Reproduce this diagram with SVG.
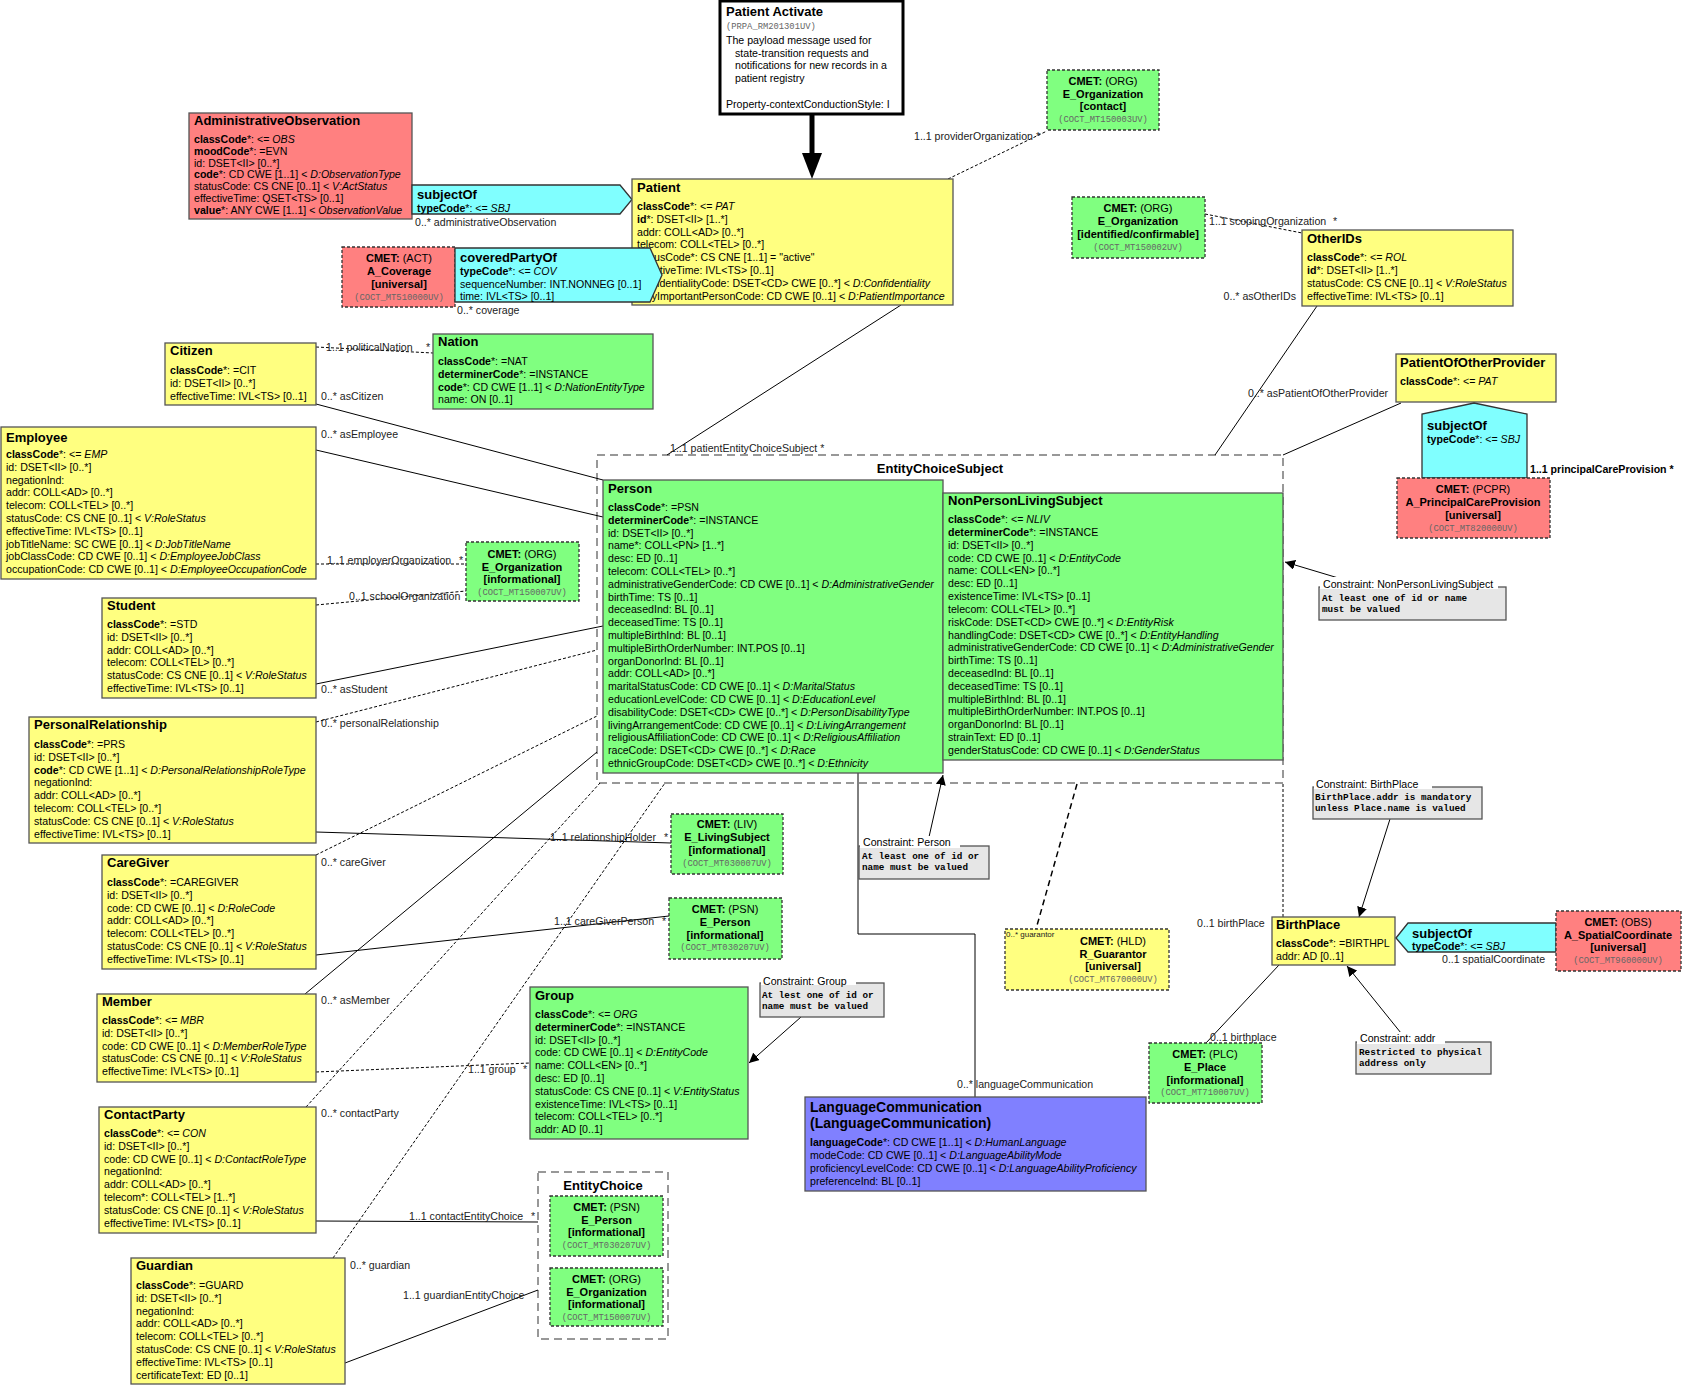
<svg xmlns="http://www.w3.org/2000/svg" width="1682" height="1385" viewBox="0 0 1682 1385">
<style>
text{font-family:"Liberation Sans",Arial,sans-serif;font-size:10.6px;fill:#000}
.t{font-weight:bold;font-size:13px}
.t2{font-weight:bold;font-size:14px}
.b{font-weight:bold}
.i{font-style:italic}
.c{text-anchor:middle}
g[id^="CMET"] .c{font-size:11px}
.e{text-anchor:end}
.m{font-family:"Liberation Mono","Courier New",monospace;font-weight:bold;font-size:9.3px}
.cd{font-family:"Liberation Mono","Courier New",monospace;font-size:8.8px;fill:#666;text-anchor:middle}
.l{fill:#222}
.sm{font-size:8px;fill:#222}
.yl{fill:#FFFF80;stroke:#555;stroke-width:1.3}
.gr{fill:#80FF80;stroke:#555;stroke-width:1.3}
.rd{fill:#FF8080;stroke:#555;stroke-width:1.3}
.cy{fill:#80FFFF;stroke:#333;stroke-width:1.3}
.bl{fill:#8080FF;stroke:#555;stroke-width:1.3}
.dsh{stroke:#333;stroke-dasharray:3,2}
.fr{fill:none;stroke:#777;stroke-width:1.5;stroke-dasharray:8,5}
.ct{fill:#E6E6E6;stroke:#555;stroke-width:1.3}
.s{stroke:#000;stroke-width:1;fill:none}
.d{stroke:#000;stroke-width:1;fill:none;stroke-dasharray:3,2}
.ar{stroke:#000;stroke-width:1;fill:none;marker-end:url(#ah)}
</style>
<defs>
<marker id="ah" viewBox="0 0 10 10" refX="10" refY="5" markerWidth="10" markerHeight="10" markerUnits="userSpaceOnUse" orient="auto">
<path d="M0,0 L10,5 L0,10 z" fill="#000"/>
</marker>
</defs>
<rect width="1682" height="1385" fill="#fff"/>

<!-- frames -->
<g id="EntityChoiceSubject">
<rect class="fr" x="597" y="455" width="686" height="328"/>
<text class="t c" x="940" y="472.5">EntityChoiceSubject</text>
</g>
<g id="EntityChoice">
<rect class="fr" x="538" y="1172" width="130" height="167"/>
<text class="t c" x="603" y="1189.5">EntityChoice</text>
</g>

<g id="connectors">
<line x1="812" y1="114" x2="812" y2="156" stroke="#000" stroke-width="5"/>
<polygon points="802,153 822,153 812,179" fill="#000"/>
<line class="d" x1="948" y1="179" x2="1047" y2="131"/>
<text class="l" x="914" y="140">1..1 providerOrganization *</text>
<line class="d" x1="1205" y1="214" x2="1302" y2="233"/>
<text class="l" x="1209" y="225">1..1 scopingOrganization</text>
<text class="l" x="1333" y="225">*</text>
<line class="s" x1="1317" y1="306" x2="1215" y2="455"/>
<text class="l e" x="1296" y="300">0..* asOtherIDs</text>
<line class="s" x1="1401" y1="403" x2="1283" y2="455"/>
<text class="l" x="1248" y="397">0..* asPatientOfOtherProvider</text>
<text class="b" x="1530" y="473">1..1 principalCareProvision *</text>
<line class="s" x1="901" y1="305" x2="667" y2="455"/>
<text class="l" x="670" y="452">1..1 patientEntityChoiceSubject *</text>
<text class="l" x="415" y="226">0..* administrativeObservation</text>
<text class="l" x="457" y="314">0..* coverage</text>
<line class="d" x1="316" y1="347" x2="433" y2="353"/>
<text class="l" x="326" y="351">1..1 politicalNation</text>
<text class="l" x="426" y="351">*</text>
<line class="s" x1="316" y1="404" x2="603" y2="480"/>
<text class="l" x="321" y="400">0..* asCitizen</text>
<line class="s" x1="316" y1="450" x2="603" y2="517"/>
<text class="l" x="321" y="438">0..* asEmployee</text>
<line class="d" x1="316" y1="564" x2="466" y2="564"/>
<text class="l" x="327" y="564">1..1 employerOrganization</text>
<text class="l" x="459" y="564">*</text>
<line class="d" x1="316" y1="605" x2="466" y2="591"/>
<text class="l" x="349" y="600">0..1 schoolOrganization</text>
<line class="s" x1="316" y1="684" x2="603" y2="626"/>
<text class="l" x="321" y="693">0..* asStudent</text>
<line class="d" x1="316" y1="722" x2="597" y2="650"/>
<text class="l" x="321" y="727">0..* personalRelationship</text>
<line class="s" x1="316" y1="832" x2="671" y2="843"/>
<text class="l" x="550" y="841">1..1 relationshipHolder</text>
<text class="l" x="664" y="841">*</text>
<line class="d" x1="316" y1="855" x2="597" y2="716"/>
<text class="l" x="321" y="866">0..* careGiver</text>
<line class="s" x1="316" y1="955" x2="669" y2="916"/>
<text class="l" x="554" y="925">1..1 careGiverPerson</text>
<text class="l" x="662" y="925">*</text>
<line class="s" x1="305" y1="994" x2="597" y2="752"/>
<text class="l" x="321" y="1004">0..* asMember</text>
<line class="d" x1="316" y1="1072" x2="530" y2="1063"/>
<text class="l" x="468" y="1073">1..1 group</text>
<text class="l" x="523" y="1073">*</text>
<line class="d" x1="306" y1="1107" x2="600" y2="783"/>
<text class="l" x="321" y="1117">0..* contactParty</text>
<line class="s" x1="316" y1="1221" x2="538" y2="1222"/>
<text class="l" x="409" y="1220">1..1 contactEntityChoice</text>
<text class="l" x="531" y="1220">*</text>
<line class="d" x1="333" y1="1258" x2="665" y2="783"/>
<text class="l" x="350" y="1269">0..* guardian</text>
<line class="s" x1="345" y1="1363" x2="538" y2="1290"/>
<text class="l" x="403" y="1299">1..1 guardianEntityChoice</text>
<polyline class="s" points="858,773 858,934 975,934 975,1097"/>
<text class="l" x="957" y="1088">0..* languageCommunication</text>
<line x1="1077" y1="784" x2="1036" y2="929" stroke="#000" stroke-width="1.5" stroke-dasharray="6,4"/>
<line class="d" x1="1283" y1="784" x2="1283" y2="917"/>
<text class="l" x="1197" y="927">0..1 birthPlace</text>
<line class="s" x1="1206" y1="1043" x2="1279" y2="965"/>
<text class="l" x="1210" y="1041">0..1 birthplace</text>
<text class="l" x="1442" y="963">0..1 spatialCoordinate</text>
<line class="ar" x1="1345" y1="580" x2="1285" y2="562"/>
<line class="ar" x1="929" y1="837" x2="943" y2="775"/>
<line class="ar" x1="801" y1="1017" x2="749" y2="1063"/>
<line class="ar" x1="1390" y1="819" x2="1359" y2="917"/>
<line class="ar" x1="1405" y1="1038" x2="1347" y2="966"/>
</g>

<g id="PatientActivate">
<rect x="720" y="1" width="183" height="113" fill="#fff" stroke="#000" stroke-width="3"/>
<text class="t" x="726" y="16">Patient Activate</text>
<text class="cd" x="726" y="29" style="text-anchor:start">(PRPA_RM201301UV)</text>
<text x="726" y="44">The payload message used for</text>
<text x="735" y="56.5">state-transition requests and</text>
<text x="735" y="69">notifications for new records in a</text>
<text x="735" y="82">patient registry</text>
<text x="726" y="108">Property-contextConductionStyle: I</text>
</g>

<g id="AdministrativeObservation">
<rect class="rd" x="189" y="113" width="223" height="106"/>
<text class="t" x="194" y="124.5">AdministrativeObservation</text>
<text x="194" y="143"><tspan class="b">classCode</tspan>*: &lt;= <tspan class="i">OBS</tspan></text>
<text x="194" y="154.8"><tspan class="b">moodCode</tspan>*: =EVN</text>
<text x="194" y="166.6">id: DSET&lt;II&gt; [0..*]</text>
<text x="194" y="178.4"><tspan class="b">code</tspan>*: CD CWE [1..1] &lt; <tspan class="i">D:ObservationType</tspan></text>
<text x="194" y="190.2">statusCode: CS CNE [0..1] &lt; <tspan class="i">V:ActStatus</tspan></text>
<text x="194" y="202">effectiveTime: QSET&lt;TS&gt; [0..1]</text>
<text x="194" y="213.8"><tspan class="b">value</tspan>*: ANY CWE [1..1] &lt; <tspan class="i">ObservationValue</tspan></text>
</g>

<g id="subjectOfAdmin">
<polygon class="cy" points="412,185 620,185 632,199.5 620,214 412,214"/>
<text class="t" x="417" y="199">subjectOf</text>
<text x="417" y="212"><tspan class="b">typeCode</tspan>*: &lt;= <tspan class="i">SBJ</tspan></text>
</g>

<g id="Patient">
<rect class="yl" x="632" y="179" width="321" height="126"/>
<text class="t" x="637" y="191.5">Patient</text>
<text x="637" y="210"><tspan class="b">classCode</tspan>*: &lt;= <tspan class="i">PAT</tspan></text>
<text x="637" y="222.8"><tspan class="b">id</tspan>*: DSET&lt;II&gt; [1..*]</text>
<text x="637" y="235.6">addr: COLL&lt;AD&gt; [0..*]</text>
<text x="637" y="248.4">telecom: COLL&lt;TEL&gt; [0..*]</text>
<text x="637" y="261.2">statusCode*: CS CNE [1..1] = "active"</text>
<text x="637" y="274">effectiveTime: IVL&lt;TS&gt; [0..1]</text>
<text x="637" y="286.8">confidentialityCode: DSET&lt;CD&gt; CWE [0..*] &lt; <tspan class="i">D:Confidentiality</tspan></text>
<text x="637" y="299.6">veryImportantPersonCode: CD CWE [0..1] &lt; <tspan class="i">D:PatientImportance</tspan></text>
</g>

<g id="CMET_ACoverage">
<rect class="rd dsh" x="342" y="247" width="113" height="60"/>
<text class="c" x="399" y="262"><tspan class="b">CMET:</tspan> (ACT)</text>
<text class="c b" x="399" y="275">A_Coverage</text>
<text class="c b" x="399" y="288">[universal]</text>
<text class="cd" x="399" y="299.5">(COCT_MT510000UV)</text>
</g>

<g id="coveredPartyOf">
<polygon class="cy" points="455,248 650,248 662,275 650,302 455,302"/>
<text class="t" x="460" y="262">coveredPartyOf</text>
<text x="460" y="275"><tspan class="b">typeCode</tspan>*: &lt;= <tspan class="i">COV</tspan></text>
<text x="460" y="288">sequenceNumber: INT.NONNEG [0..1]</text>
<text x="460" y="300">time: IVL&lt;TS&gt; [0..1]</text>
</g>

<g id="CMET_EOrgContact">
<rect class="gr dsh" x="1047" y="70" width="112" height="60"/>
<text class="c" x="1103" y="85"><tspan class="b">CMET:</tspan> (ORG)</text>
<text class="c b" x="1103" y="97.5">E_Organization</text>
<text class="c b" x="1103" y="110">[contact]</text>
<text class="cd" x="1103" y="121.5">(COCT_MT150003UV)</text>
</g>

<g id="CMET_EOrgIdentified">
<rect class="gr dsh" x="1072" y="197" width="133" height="61"/>
<text class="c" x="1138" y="212"><tspan class="b">CMET:</tspan> (ORG)</text>
<text class="c b" x="1138" y="225">E_Organization</text>
<text class="c b" x="1138" y="238">[identified/confirmable]</text>
<text class="cd" x="1138" y="250">(COCT_MT150002UV)</text>
</g>

<g id="OtherIDs">
<rect class="yl" x="1302" y="230" width="211" height="76"/>
<text class="t" x="1307" y="242.5">OtherIDs</text>
<text x="1307" y="261"><tspan class="b">classCode</tspan>*: &lt;= <tspan class="i">ROL</tspan></text>
<text x="1307" y="274"><tspan class="b">id</tspan>*: DSET&lt;II&gt; [1..*]</text>
<text x="1307" y="287">statusCode: CS CNE [0..1] &lt; <tspan class="i">V:RoleStatus</tspan></text>
<text x="1307" y="300">effectiveTime: IVL&lt;TS&gt; [0..1]</text>
</g>

<g id="PatientOfOtherProvider">
<rect class="yl" x="1396" y="354" width="160" height="48"/>
<text class="t" x="1400" y="366.5">PatientOfOtherProvider</text>
<text x="1400" y="385"><tspan class="b">classCode</tspan>*: &lt;= <tspan class="i">PAT</tspan></text>
</g>

<g id="subjectOfPCP">
<polygon class="cy" points="1474,403 1527,414 1527,478 1422,478 1422,414"/>
<text class="t" x="1427" y="429.5">subjectOf</text>
<text x="1427" y="443"><tspan class="b">typeCode</tspan>*: &lt;= <tspan class="i">SBJ</tspan></text>
</g>

<g id="CMET_PrincipalCare">
<rect class="rd dsh" x="1397" y="478" width="153" height="60"/>
<text class="c" x="1473" y="493"><tspan class="b">CMET:</tspan> (PCPR)</text>
<text class="c b" x="1473" y="506">A_PrincipalCareProvision</text>
<text class="c b" x="1473" y="519">[universal]</text>
<text class="cd" x="1473" y="531">(COCT_MT820000UV)</text>
</g>

<g id="Citizen">
<rect class="yl" x="165" y="343" width="151" height="62"/>
<text class="t" x="170" y="354.5">Citizen</text>
<text x="170" y="374"><tspan class="b">classCode</tspan>*: =CIT</text>
<text x="170" y="387">id: DSET&lt;II&gt; [0..*]</text>
<text x="170" y="399.5">effectiveTime: IVL&lt;TS&gt; [0..1]</text>
</g>

<g id="Nation">
<rect class="gr" x="433" y="334" width="220" height="75"/>
<text class="t" x="438" y="346">Nation</text>
<text x="438" y="365"><tspan class="b">classCode</tspan>*: =NAT</text>
<text x="438" y="378"><tspan class="b">determinerCode</tspan>*: =INSTANCE</text>
<text x="438" y="391"><tspan class="b">code</tspan>*: CD CWE [1..1] &lt; <tspan class="i">D:NationEntityType</tspan></text>
<text x="438" y="403">name: ON [0..1]</text>
</g>

<g id="Employee">
<rect class="yl" x="1" y="427" width="315" height="152"/>
<text class="t" x="6" y="442">Employee</text>
<text x="6" y="458"><tspan class="b">classCode</tspan>*: &lt;= <tspan class="i">EMP</tspan></text>
<text x="6" y="470.8">id: DSET&lt;II&gt; [0..*]</text>
<text x="6" y="483.6">negationInd:</text>
<text x="6" y="496.4">addr: COLL&lt;AD&gt; [0..*]</text>
<text x="6" y="509.2">telecom: COLL&lt;TEL&gt; [0..*]</text>
<text x="6" y="522">statusCode: CS CNE [0..1] &lt; <tspan class="i">V:RoleStatus</tspan></text>
<text x="6" y="534.8">effectiveTime: IVL&lt;TS&gt; [0..1]</text>
<text x="6" y="547.6">jobTitleName: SC CWE [0..1] &lt; <tspan class="i">D:JobTitleName</tspan></text>
<text x="6" y="560.4">jobClassCode: CD CWE [0..1] &lt; <tspan class="i">D:EmployeeJobClass</tspan></text>
<text x="6" y="573.2">occupationCode: CD CWE [0..1] &lt; <tspan class="i">D:EmployeeOccupationCode</tspan></text>
</g>

<g id="CMET_EOrgEmployer">
<rect class="gr dsh" x="466" y="542" width="113" height="59"/>
<text class="c" x="522" y="558"><tspan class="b">CMET:</tspan> (ORG)</text>
<text class="c b" x="522" y="571">E_Organization</text>
<text class="c b" x="522" y="583">[informational]</text>
<text class="cd" x="522" y="595">(COCT_MT150007UV)</text>
</g>

<g id="Student">
<rect class="yl" x="102" y="598" width="214" height="100"/>
<text class="t" x="107" y="609.5">Student</text>
<text x="107" y="628"><tspan class="b">classCode</tspan>*: =STD</text>
<text x="107" y="640.8">id: DSET&lt;II&gt; [0..*]</text>
<text x="107" y="653.6">addr: COLL&lt;AD&gt; [0..*]</text>
<text x="107" y="666.4">telecom: COLL&lt;TEL&gt; [0..*]</text>
<text x="107" y="679.2">statusCode: CS CNE [0..1] &lt; <tspan class="i">V:RoleStatus</tspan></text>
<text x="107" y="692">effectiveTime: IVL&lt;TS&gt; [0..1]</text>
</g>

<g id="PersonalRelationship">
<rect class="yl" x="29" y="717" width="287" height="126"/>
<text class="t" x="34" y="728.5">PersonalRelationship</text>
<text x="34" y="748"><tspan class="b">classCode</tspan>*: =PRS</text>
<text x="34" y="760.8">id: DSET&lt;II&gt; [0..*]</text>
<text x="34" y="773.6"><tspan class="b">code</tspan>*: CD CWE [1..1] &lt; <tspan class="i">D:PersonalRelationshipRoleType</tspan></text>
<text x="34" y="786.4">negationInd:</text>
<text x="34" y="799.2">addr: COLL&lt;AD&gt; [0..*]</text>
<text x="34" y="812">telecom: COLL&lt;TEL&gt; [0..*]</text>
<text x="34" y="824.8">statusCode: CS CNE [0..1] &lt; <tspan class="i">V:RoleStatus</tspan></text>
<text x="34" y="837.6">effectiveTime: IVL&lt;TS&gt; [0..1]</text>
</g>

<g id="CareGiver">
<rect class="yl" x="102" y="855" width="214" height="114"/>
<text class="t" x="107" y="866.5">CareGiver</text>
<text x="107" y="886"><tspan class="b">classCode</tspan>*: =CAREGIVER</text>
<text x="107" y="898.8">id: DSET&lt;II&gt; [0..*]</text>
<text x="107" y="911.6">code: CD CWE [0..1] &lt; <tspan class="i">D:RoleCode</tspan></text>
<text x="107" y="924.4">addr: COLL&lt;AD&gt; [0..*]</text>
<text x="107" y="937.2">telecom: COLL&lt;TEL&gt; [0..*]</text>
<text x="107" y="950">statusCode: CS CNE [0..1] &lt; <tspan class="i">V:RoleStatus</tspan></text>
<text x="107" y="962.8">effectiveTime: IVL&lt;TS&gt; [0..1]</text>
</g>

<g id="Member">
<rect class="yl" x="97" y="994" width="219" height="88"/>
<text class="t" x="102" y="1005.5">Member</text>
<text x="102" y="1024"><tspan class="b">classCode</tspan>*: &lt;= <tspan class="i">MBR</tspan></text>
<text x="102" y="1036.8">id: DSET&lt;II&gt; [0..*]</text>
<text x="102" y="1049.6">code: CD CWE [0..1] &lt; <tspan class="i">D:MemberRoleType</tspan></text>
<text x="102" y="1062.4">statusCode: CS CNE [0..1] &lt; <tspan class="i">V:RoleStatus</tspan></text>
<text x="102" y="1075.2">effectiveTime: IVL&lt;TS&gt; [0..1]</text>
</g>

<g id="ContactParty">
<rect class="yl" x="99" y="1107" width="217" height="126"/>
<text class="t" x="104" y="1118.5">ContactParty</text>
<text x="104" y="1137"><tspan class="b">classCode</tspan>*: &lt;= <tspan class="i">CON</tspan></text>
<text x="104" y="1149.8">id: DSET&lt;II&gt; [0..*]</text>
<text x="104" y="1162.6">code: CD CWE [0..1] &lt; <tspan class="i">D:ContactRoleType</tspan></text>
<text x="104" y="1175.4">negationInd:</text>
<text x="104" y="1188.2">addr: COLL&lt;AD&gt; [0..*]</text>
<text x="104" y="1201">telecom*: COLL&lt;TEL&gt; [1..*]</text>
<text x="104" y="1213.8">statusCode: CS CNE [0..1] &lt; <tspan class="i">V:RoleStatus</tspan></text>
<text x="104" y="1226.6">effectiveTime: IVL&lt;TS&gt; [0..1]</text>
</g>

<g id="Guardian">
<rect class="yl" x="131" y="1258" width="214" height="126"/>
<text class="t" x="136" y="1269.5">Guardian</text>
<text x="136" y="1289"><tspan class="b">classCode</tspan>*: =GUARD</text>
<text x="136" y="1301.8">id: DSET&lt;II&gt; [0..*]</text>
<text x="136" y="1314.6">negationInd:</text>
<text x="136" y="1327.4">addr: COLL&lt;AD&gt; [0..*]</text>
<text x="136" y="1340.2">telecom: COLL&lt;TEL&gt; [0..*]</text>
<text x="136" y="1353">statusCode: CS CNE [0..1] &lt; <tspan class="i">V:RoleStatus</tspan></text>
<text x="136" y="1365.8">effectiveTime: IVL&lt;TS&gt; [0..1]</text>
<text x="136" y="1378.6">certificateText: ED [0..1]</text>
</g>

<g id="Person">
<rect class="gr" x="603" y="480" width="340" height="293"/>
<text class="t" x="608" y="492.5">Person</text>
<text x="608" y="511"><tspan class="b">classCode</tspan>*: =PSN</text>
<text x="608" y="523.8"><tspan class="b">determinerCode</tspan>*: =INSTANCE</text>
<text x="608" y="536.6">id: DSET&lt;II&gt; [0..*]</text>
<text x="608" y="549.4">name*: COLL&lt;PN&gt; [1..*]</text>
<text x="608" y="562.2">desc: ED [0..1]</text>
<text x="608" y="575">telecom: COLL&lt;TEL&gt; [0..*]</text>
<text x="608" y="587.8">administrativeGenderCode: CD CWE [0..1] &lt; <tspan class="i">D:AdministrativeGender</tspan></text>
<text x="608" y="600.6">birthTime: TS [0..1]</text>
<text x="608" y="613.4">deceasedInd: BL [0..1]</text>
<text x="608" y="626.2">deceasedTime: TS [0..1]</text>
<text x="608" y="639">multipleBirthInd: BL [0..1]</text>
<text x="608" y="651.8">multipleBirthOrderNumber: INT.POS [0..1]</text>
<text x="608" y="664.6">organDonorInd: BL [0..1]</text>
<text x="608" y="677.4">addr: COLL&lt;AD&gt; [0..*]</text>
<text x="608" y="690.2">maritalStatusCode: CD CWE [0..1] &lt; <tspan class="i">D:MaritalStatus</tspan></text>
<text x="608" y="703">educationLevelCode: CD CWE [0..1] &lt; <tspan class="i">D:EducationLevel</tspan></text>
<text x="608" y="715.8">disabilityCode: DSET&lt;CD&gt; CWE [0..*] &lt; <tspan class="i">D:PersonDisabilityType</tspan></text>
<text x="608" y="728.6">livingArrangementCode: CD CWE [0..1] &lt; <tspan class="i">D:LivingArrangement</tspan></text>
<text x="608" y="741.4">religiousAffiliationCode: CD CWE [0..1] &lt; <tspan class="i">D:ReligiousAffiliation</tspan></text>
<text x="608" y="754.2">raceCode: DSET&lt;CD&gt; CWE [0..*] &lt; <tspan class="i">D:Race</tspan></text>
<text x="608" y="767">ethnicGroupCode: DSET&lt;CD&gt; CWE [0..*] &lt; <tspan class="i">D:Ethnicity</tspan></text>
</g>

<g id="NonPersonLivingSubject">
<rect class="gr" x="943" y="493" width="340" height="267"/>
<text class="t" x="948" y="505">NonPersonLivingSubject</text>
<text x="948" y="523"><tspan class="b">classCode</tspan>*: &lt;= <tspan class="i">NLIV</tspan></text>
<text x="948" y="535.8"><tspan class="b">determinerCode</tspan>*: =INSTANCE</text>
<text x="948" y="548.7">id: DSET&lt;II&gt; [0..*]</text>
<text x="948" y="561.5">code: CD CWE [0..1] &lt; <tspan class="i">D:EntityCode</tspan></text>
<text x="948" y="574.3">name: COLL&lt;EN&gt; [0..*]</text>
<text x="948" y="587.2">desc: ED [0..1]</text>
<text x="948" y="600">existenceTime: IVL&lt;TS&gt; [0..1]</text>
<text x="948" y="612.8">telecom: COLL&lt;TEL&gt; [0..*]</text>
<text x="948" y="625.6">riskCode: DSET&lt;CD&gt; CWE [0..*] &lt; <tspan class="i">D:EntityRisk</tspan></text>
<text x="948" y="638.5">handlingCode: DSET&lt;CD&gt; CWE [0..*] &lt; <tspan class="i">D:EntityHandling</tspan></text>
<text x="948" y="651.3">administrativeGenderCode: CD CWE [0..1] &lt; <tspan class="i">D:AdministrativeGender</tspan></text>
<text x="948" y="664.1">birthTime: TS [0..1]</text>
<text x="948" y="677">deceasedInd: BL [0..1]</text>
<text x="948" y="689.8">deceasedTime: TS [0..1]</text>
<text x="948" y="702.6">multipleBirthInd: BL [0..1]</text>
<text x="948" y="715.4">multipleBirthOrderNumber: INT.POS [0..1]</text>
<text x="948" y="728.3">organDonorInd: BL [0..1]</text>
<text x="948" y="741.1">strainText: ED [0..1]</text>
<text x="948" y="754">genderStatusCode: CD CWE [0..1] &lt; <tspan class="i">D:GenderStatus</tspan></text>
</g>

<g id="ConstraintNPLS">
<rect class="ct" x="1319" y="587" width="187" height="33"/>
<rect x="1320" y="577" width="178" height="12" fill="#fff"/>
<text x="1323" y="588">Constraint: NonPersonLivingSubject</text>
<text class="m" x="1322" y="601">At least one of id or name</text>
<text class="m" x="1322" y="612">must be valued</text>
</g>

<g id="ConstraintPerson">
<rect class="ct" x="859" y="846" width="130" height="33"/>
<rect x="860" y="836" width="100" height="12" fill="#fff"/>
<text x="863" y="846">Constraint: Person</text>
<text class="m" x="862" y="859">At least one of id or</text>
<text class="m" x="862" y="870">name must be valued</text>
</g>

<g id="CMET_ELivingSubject">
<rect class="gr dsh" x="671" y="814" width="112" height="60"/>
<text class="c" x="727" y="828"><tspan class="b">CMET:</tspan> (LIV)</text>
<text class="c b" x="727" y="841">E_LivingSubject</text>
<text class="c b" x="727" y="854">[informational]</text>
<text class="cd" x="727" y="866">(COCT_MT030007UV)</text>
</g>

<g id="CMET_EPersonCare">
<rect class="gr dsh" x="669" y="898" width="113" height="61"/>
<text class="c" x="725" y="913"><tspan class="b">CMET:</tspan> (PSN)</text>
<text class="c b" x="725" y="926">E_Person</text>
<text class="c b" x="725" y="939">[informational]</text>
<text class="cd" x="725" y="950">(COCT_MT030207UV)</text>
</g>

<g id="Group">
<rect class="gr" x="530" y="987" width="218" height="152"/>
<text class="t" x="535" y="999.5">Group</text>
<text x="535" y="1018"><tspan class="b">classCode</tspan>*: &lt;= <tspan class="i">ORG</tspan></text>
<text x="535" y="1030.8"><tspan class="b">determinerCode</tspan>*: =INSTANCE</text>
<text x="535" y="1043.6">id: DSET&lt;II&gt; [0..*]</text>
<text x="535" y="1056.4">code: CD CWE [0..1] &lt; <tspan class="i">D:EntityCode</tspan></text>
<text x="535" y="1069.2">name: COLL&lt;EN&gt; [0..*]</text>
<text x="535" y="1082">desc: ED [0..1]</text>
<text x="535" y="1094.8">statusCode: CS CNE [0..1] &lt; <tspan class="i">V:EntityStatus</tspan></text>
<text x="535" y="1107.6">existenceTime: IVL&lt;TS&gt; [0..1]</text>
<text x="535" y="1120.4">telecom: COLL&lt;TEL&gt; [0..*]</text>
<text x="535" y="1133.2">addr: AD [0..1]</text>
</g>

<g id="ConstraintGroup">
<rect class="ct" x="760" y="983" width="124" height="34"/>
<rect x="761" y="973" width="95" height="12" fill="#fff"/>
<text x="763" y="985">Constraint: Group</text>
<text class="m" x="762" y="998">At lest one of id or</text>
<text class="m" x="762" y="1009">name must be valued</text>
</g>

<g id="CMET_EPersonChoice">
<rect class="gr dsh" x="550" y="1196" width="113" height="60"/>
<text class="c" x="606.5" y="1211"><tspan class="b">CMET:</tspan> (PSN)</text>
<text class="c b" x="606.5" y="1224">E_Person</text>
<text class="c b" x="606.5" y="1236">[informational]</text>
<text class="cd" x="606.5" y="1248">(COCT_MT030207UV)</text>
</g>

<g id="CMET_EOrgChoice">
<rect class="gr dsh" x="550" y="1268" width="113" height="58"/>
<text class="c" x="606.5" y="1283"><tspan class="b">CMET:</tspan> (ORG)</text>
<text class="c b" x="606.5" y="1296">E_Organization</text>
<text class="c b" x="606.5" y="1308">[informational]</text>
<text class="cd" x="606.5" y="1320">(COCT_MT150007UV)</text>
</g>

<g id="LanguageCommunication">
<rect class="bl" x="805" y="1097" width="341" height="94"/>
<text class="t2" x="810" y="1112">LanguageCommunication</text>
<text class="t2" x="810" y="1128">(LanguageCommunication)</text>
<text x="810" y="1146"><tspan class="b">languageCode</tspan>*: CD CWE [1..1] &lt; <tspan class="i">D:HumanLanguage</tspan></text>
<text x="810" y="1159">modeCode: CD CWE [0..1] &lt; <tspan class="i">D:LanguageAbilityMode</tspan></text>
<text x="810" y="1172">proficiencyLevelCode: CD CWE [0..1] &lt; <tspan class="i">D:LanguageAbilityProficiency</tspan></text>
<text x="810" y="1185">preferenceInd: BL [0..1]</text>
</g>

<g id="CMET_RGuarantor">
<rect class="yl dsh" x="1005" y="929" width="164" height="61"/>
<text class="sm" x="1006" y="937">0..* guarantor</text>
<text class="c" x="1113" y="945"><tspan class="b">CMET:</tspan> (HLD)</text>
<text class="c b" x="1113" y="957.5">R_Guarantor</text>
<text class="c b" x="1113" y="970">[universal]</text>
<text class="cd" x="1113" y="981.5">(COCT_MT670000UV)</text>
</g>

<g id="ConstraintBirthPlace">
<rect class="ct" x="1313" y="787" width="169" height="32"/>
<rect x="1314" y="777" width="118" height="12" fill="#fff"/>
<text x="1316" y="788">Constraint: BirthPlace</text>
<text class="m" x="1315" y="800">BirthPlace.addr is mandatory</text>
<text class="m" x="1315" y="811">unless Place.name is valued</text>
</g>

<g id="BirthPlace">
<rect class="yl" x="1272" y="917" width="123" height="48"/>
<text class="t" x="1276" y="928.5">BirthPlace</text>
<text x="1276" y="947"><tspan class="b">classCode</tspan>*: =BIRTHPL</text>
<text x="1276" y="960">addr: AD [0..1]</text>
</g>

<g id="subjectOfSpatial">
<polygon class="cy" points="1396,938 1408,923 1556,923 1556,952 1408,952"/>
<text class="t" x="1412" y="937.5">subjectOf</text>
<text x="1412" y="950"><tspan class="b">typeCode</tspan>*: &lt;= <tspan class="i">SBJ</tspan></text>
</g>

<g id="CMET_ASpatial">
<rect class="rd dsh" x="1556" y="911" width="125" height="60"/>
<text class="c" x="1618" y="926"><tspan class="b">CMET:</tspan> (OBS)</text>
<text class="c b" x="1618" y="938.5">A_SpatialCoordinate</text>
<text class="c b" x="1618" y="951">[universal]</text>
<text class="cd" x="1618" y="962.5">(COCT_MT960000UV)</text>
</g>

<g id="CMET_EPlace">
<rect class="gr dsh" x="1149" y="1043" width="113" height="60"/>
<text class="c" x="1205" y="1058"><tspan class="b">CMET:</tspan> (PLC)</text>
<text class="c b" x="1205" y="1071">E_Place</text>
<text class="c b" x="1205" y="1084">[informational]</text>
<text class="cd" x="1205" y="1095">(COCT_MT710007UV)</text>
</g>

<g id="ConstraintAddr">
<rect class="ct" x="1356" y="1042" width="135" height="32"/>
<rect x="1357" y="1032" width="88" height="12" fill="#fff"/>
<text x="1360" y="1042">Constraint: addr</text>
<text class="m" x="1359" y="1055">Restricted to physical</text>
<text class="m" x="1359" y="1066">address only</text>
</g>
</svg>
